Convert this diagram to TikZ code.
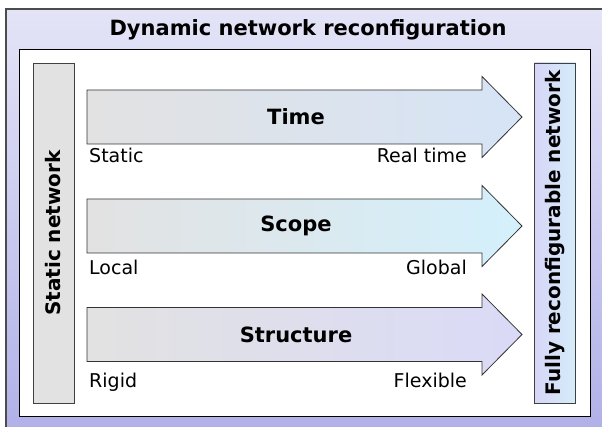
\documentclass[tikz,border=0pt]{standalone}
\usepackage{fontspec}
\setmainfont{DejaVu Sans}
\usetikzlibrary{positioning}
\definecolor{framelight}{RGB}{228,228,247}
\definecolor{framedark}{RGB}{176,176,232}
\definecolor{arrowgray}{RGB}{226,226,226}
\definecolor{timecol}{RGB}{214,228,246}
\definecolor{scopecol}{RGB}{212,240,252}
\definecolor{structcol}{RGB}{218,218,248}
\definecolor{fullytop}{RGB}{214,236,250}
\definecolor{fullybot}{RGB}{214,214,246}

\begin{document}
\begin{tikzpicture}[x=1pt,y=-1pt,
    lbl/.style={font=\fontsize{19}{21}\selectfont, inner sep=0pt},
    hdr/.style={font=\fontsize{21}{23}\selectfont\bfseries, inner sep=0pt},
    arrowbody/.style={draw=black!80, line width=0.8pt, left color=arrowgray, middle color=white!92!gray},
    sidebox/.style={draw=black!75, line width=0.8pt, rotate=90, minimum width=340pt, minimum height=41pt, inner sep=0pt, font=\fontsize{20}{22}\selectfont\bfseries}]
  \useasboundingbox (0,0) rectangle (602,427);
  % background frame
  \fill[top color=framelight, bottom color=framedark] (6,9) rectangle (612,437);
  \draw[black!70, line width=1.2pt] (6,437) -- (6,9) -- (612,9);
  \node[hdr] (title) at (308,30) {Dynamic network reconfiguration};
  \draw[fill=white, line width=0.8pt] (19,49) rectangle (590,416);
  % side boxes
  \node[sidebox, fill=arrowgray] (static) at (53.5,233) {Static network};
  \node[sidebox, left color=fullybot, right color=fullytop] (fully) at (555,233) {Fully reconfigurable network};
  % arrows
  \draw[arrowbody, right color=timecol] (87,90) -- (482,90) -- (482,76.5) -- (522,117) -- (482,157.5) -- (482,144) -- (87,144) -- cycle;
  \draw[arrowbody, right color=scopecol] (87,199) -- (482,199) -- (482,185.5) -- (522,226) -- (482,266.5) -- (482,253) -- (87,253) -- cycle;
  \draw[arrowbody, right color=structcol] (87,307.5) -- (482,307.5) -- (482,294) -- (522,334.5) -- (482,375) -- (482,361.5) -- (87,361.5) -- cycle;
  % texts
  \node[hdr] (time) at (296,117) {Time};
  \node[hdr] (scope) at (296,226) {Scope};
  \node[hdr] (structure) at (296,335) {Structure};
  \node[lbl, anchor=base west] (static-l) at (89,163) {Static};
  \node[lbl, anchor=base east] (time-r) at (467,163) {Real time};
  \node[lbl, anchor=base west] (local-l) at (89,275) {Local};
  \node[lbl, anchor=base east] (global-r) at (467,275) {Global};
  \node[lbl, anchor=base west] (rigid-l) at (89,387) {Rigid};
  \node[lbl, anchor=base east] (flex-r) at (467,387) {Flexible};
\end{tikzpicture}
\end{document}
